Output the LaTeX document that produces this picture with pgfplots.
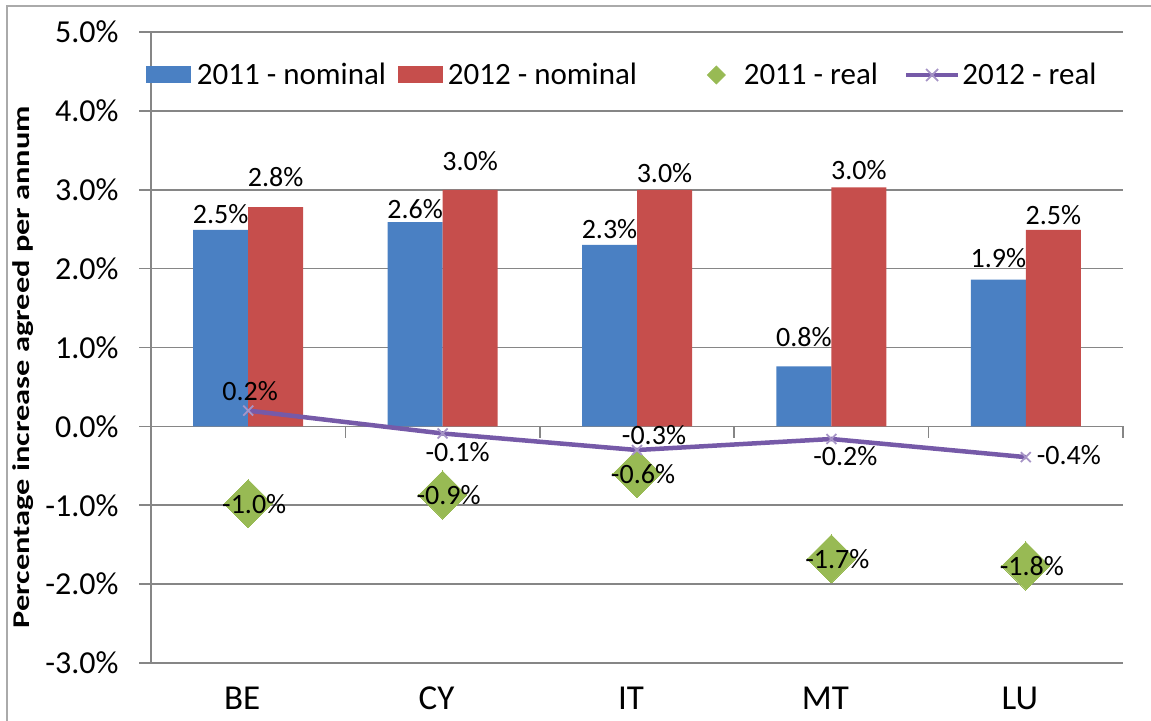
\documentclass[border=0pt]{standalone}
\usepackage{fontspec}
\setmainfont{Carlito}
\usepackage{graphicx}
\usepackage{pgfplots}
\usepackage{pgfplotstable}
\pgfplotsset{compat=1.18}
\definecolor{xblue}{RGB}{74,128,195}
\definecolor{xred}{RGB}{198,78,76}
\definecolor{xgreen}{RGB}{152,186,84}
\definecolor{xpurple}{RGB}{118,90,168}
\definecolor{gridc}{RGB}{134,134,134}
\definecolor{framec}{RGB}{170,170,170}

\pgfplotstableread{
x y ys
0 2.49 3
1 2.59 1.5
2 2.30 3
3 0.76 9.5
4 1.86 6
}\tblue
\pgfplotstableread{
x y ys
0 2.78 10
1 3.00 9.5
2 3.00 3.5
3 3.03 3.5
4 2.49 2.5
}\tred
\pgfplotstableread{
x y
0 -0.98
1 -0.87
2 -0.60
3 -1.68
4 -1.77
}\tgreen
\pgfplotstableread{
x y xs ys
0 0.20 1 9.75
1 -0.09 7.5 -9.25
2 -0.30 8.5 7.5
3 -0.16 7 -8.7
4 -0.39 21.5 1
}\tline

\begin{document}
\begin{tikzpicture}
\useasboundingbox (0,0) rectangle (575.5pt,360.5pt);
\draw[framec, line width=1pt] (3.5pt,-2pt) -- (3.5pt,357.5pt) -- (578pt,357.5pt);
\begin{axis}[
  at={(75.5pt,29pt)}, anchor=south west,
  scale only axis, width=486pt, height=315.5pt,
  xmin=-0.5, xmax=4.5, ymin=-3, ymax=5,
  axis lines*=left,
  x axis line style={draw=none},
  y axis line style={draw=gridc, line width=0.75pt},
  xtick={0,...,4}, xticklabels={BE,CY,IT,MT,LU},
  xtick style={draw=none},
  ytick={-3,...,5},
  ytick style={draw=gridc, line width=0.75pt},
  tick align=outside, major tick length=6pt,
  ymajorgrids, major grid style={draw=gridc, line width=0.75pt},
  /pgf/number format/assume math mode=true,
  yticklabel={\pgfmathprintnumber[fixed,fixed zerofill,precision=1]{\tick}\%},
  yticklabel style={font=\fontsize{16}{19}\selectfont, anchor=east, inner sep=0pt, xshift=-10pt},
  xticklabel style={font=\fontsize{17.5}{20}\selectfont, anchor=base, inner sep=0pt, xshift=-3pt, yshift=-17.5pt},
  legend columns=4,
  legend cell align=left,
  legend style={draw=none, fill=none, inner sep=0pt, outer sep=0pt, column sep=0pt, row sep=0pt,
    nodes={inner sep=0pt}, font=\fontsize{15.5}{18}\selectfont,
    at={(axis description cs:0,0.9319)}, anchor=west, xshift=-2.5pt},
  clip=false,
]
\addplot[ybar, bar width=27.5pt, bar shift=-13.75pt, fill=xblue, draw=none,
  legend image code/.code={\fill[xblue] (0pt,-4.25pt) rectangle (22.5pt,4.25pt); \path (25.5pt,0pt);},
  nodes near coords={\pgfmathprintnumber[fixed,fixed zerofill,precision=1]{\pgfplotspointmeta}\%},
  visualization depends on={\thisrow{ys} \as \myys},
  every node near coord/.append style={anchor=south, inner sep=0pt, xshift=-13.75pt, yshift=\myys pt, font=\fontsize{14}{16}\selectfont, text=black},
] table[x=x,y=y] {\tblue};
\addlegendentry{\makebox[100.5pt][l]{2011 - nominal}}
\addplot[ybar, bar width=27.5pt, bar shift=13.75pt, fill=xred, draw=none,
  legend image code/.code={\fill[xred] (0pt,-4.25pt) rectangle (22.5pt,4.25pt); \path (25pt,0pt);},
  nodes near coords={\pgfmathprintnumber[fixed,fixed zerofill,precision=1]{\pgfplotspointmeta}\%},
  visualization depends on={\thisrow{ys} \as \myys},
  every node near coord/.append style={anchor=south, inner sep=0pt, xshift=13.75pt, yshift=\myys pt, font=\fontsize{14}{16}\selectfont, text=black},
] table[x=x,y=y] {\tred};
\addlegendentry{\makebox[121pt][l]{2012 - nominal}}
\addplot[xgreen, only marks, mark=square*, mark size=8.5pt, mark options={draw=xgreen, fill=xgreen, line width=0pt, rotate=45},
  legend image code/.code={\fill[xgreen] (13pt,4.5pt) -- (17.5pt,0pt) -- (13pt,-4.5pt) -- (8.5pt,0pt) -- cycle; \path (0pt,0pt) (26.5pt,0pt);},
  nodes near coords={\pgfmathprintnumber[fixed,fixed zerofill,precision=1]{\pgfplotspointmeta}\%},
  every node near coord/.append style={anchor=center, inner sep=0pt, xshift=3pt, font=\fontsize{14}{16}\selectfont, text=black},
] table[x=x,y=y] {\tgreen};
\addlegendentry{\makebox[80pt][l]{2011 - real}}
\addplot[xpurple, line width=2.25pt, mark=x, mark size=3.5pt, mark options={line width=0.9pt, draw=xpurple!65!white},
  legend image code/.code={\draw[xpurple, line width=2.25pt] (0pt,0pt) -- (26pt,0pt); \draw[xpurple!65!white, line width=0.9pt] (10pt,-3pt) -- (16pt,3pt) (10pt,3pt) -- (16pt,-3pt); \path (27pt,0pt);},
  nodes near coords={\pgfmathprintnumber[fixed,fixed zerofill,precision=1]{\pgfplotspointmeta}\%},
  visualization depends on={\thisrow{xs} \as \myxs},
  visualization depends on={\thisrow{ys} \as \myys},
  every node near coord/.append style={anchor=center, inner sep=0pt, xshift=\myxs pt, yshift=\myys pt, font=\fontsize{14}{16}\selectfont, text=black},
] table[x=x,y=y] {\tline};
\addlegendentry{2012 - real}
\pgfplotsinvokeforeach{0.5,1.5,2.5,3.5,4.5}{
  \draw[gridc, line width=0.75pt] (axis cs:#1,0) -- ([yshift=-6pt]axis cs:#1,0);
}
\end{axis}
\node[rotate=90, inner sep=0pt, font=\bfseries\fontsize{12}{14}\selectfont] at (11.5pt,177pt) {\scalebox{1.35}[1]{Percentage increase agreed per annum}};
\end{tikzpicture}
\end{document}
